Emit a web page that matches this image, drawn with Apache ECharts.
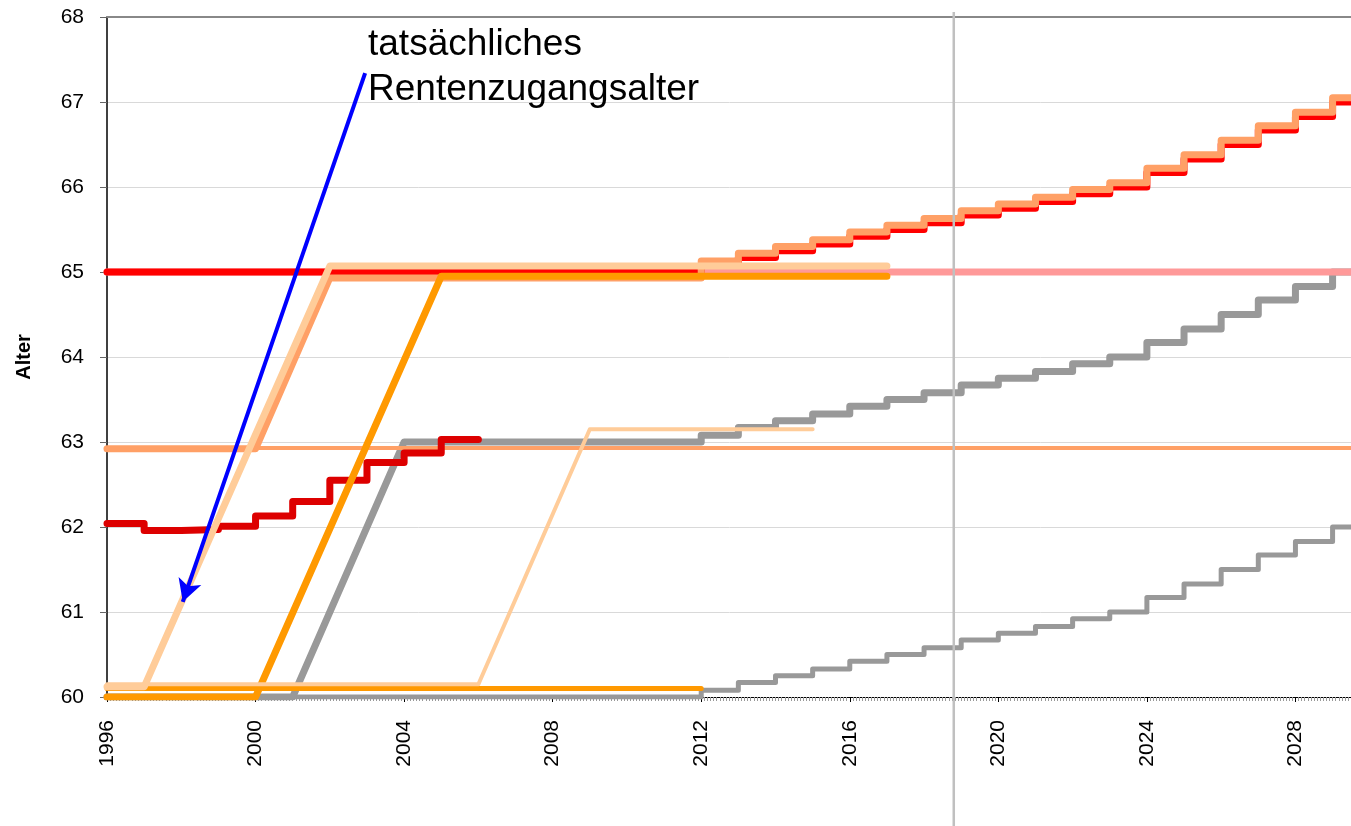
<!DOCTYPE html>
<html>
<head>
<meta charset="utf-8">
<script src="https://cdn.jsdelivr.net/npm/echarts@6/dist/echarts.min.js"></script>
<style>
  html, body { margin: 0; padding: 0; background: #fff; }
  #chart { width: 1351px; height: 826px; }
</style>
</head>
<body>
<div id="chart"></div>
<script>
// Jahre, ab denen die Altersgrenze schrittweise steigt
const stufenJahre = [2012, 2013, 2014, 2015, 2016, 2017, 2018, 2019, 2020, 2021, 2022, 2023, 2024, 2025, 2026, 2027, 2028, 2029]
// Regelaltersgrenze (rot) und die leicht versetzte Linie darueber (lachs)
const regelAlter = [65.08, 65.17, 65.25, 65.33, 65.42, 65.5, 65.58, 65.67, 65.75, 65.83, 65.92, 66, 66.17, 66.33, 66.5, 66.67, 66.83, 67]
const lachsStufen = [65.13, 65.22, 65.3, 65.38, 65.47, 65.55, 65.63, 65.72, 65.8, 65.88, 65.97, 66.05, 66.22, 66.38, 66.55, 66.72, 66.88, 67.05]
// graue Linien
const grauObenStufen = [63.08, 63.17, 63.25, 63.33, 63.42, 63.5, 63.58, 63.67, 63.75, 63.83, 63.92, 64, 64.17, 64.33, 64.5, 64.67, 64.83, 65]
const grauUntenStufen = [60.08, 60.17, 60.25, 60.33, 60.42, 60.5, 60.58, 60.67, 60.75, 60.83, 60.92, 61, 61.17, 61.33, 61.5, 61.67, 61.83, 62]

// tatsaechliches Rentenzugangsalter
const istJahre = [1996, 1997, 1998, 1999, 2000, 2001, 2002, 2003, 2004, 2005]
const istAlter = [62.04, 61.96, 61.97, 62.01, 62.13, 62.3, 62.55, 62.76, 62.87, 63.03]
const istEnde = 2006

// Linien mit Rampen (Jahr, Alter)
const rotVorher = [[1996, 65], [2012, 65]]
const rosa = [[1996, 65], [2032, 65]]
const lachsDuenn = [[1996, 62.93], [2032, 62.93]]
const lachsVorher = [[1996, 62.92], [2000, 62.92], [2002, 64.93], [2012, 64.93]]
const pfirsichDick = [[1996, 60.12], [1997, 60.12], [2002, 65.07], [2017, 65.07]]
const pfirsichDuenn = [[1996, 60.15], [2006, 60.15], [2009, 63.15], [2015, 63.15]]
const orangeDick = [[1996, 60], [2000, 60], [2005, 64.95], [2017, 64.95]]
const orangeDuenn = [[1996, 60.1], [2012, 60.1]]
const grauObenVorher = [[1996, 60], [2001, 60], [2004, 63], [2012, 63]]
const grauUntenVorher = [[1996, 60], [2012, 60]]

const xMin = 1996
const xMax = 2032
const vLinieJahr = 2018.8
const pfeilVon = [2002.95, 67.34]
const pfeilBis = [1998.04, 61.12]

const FONT = '"Liberation Sans", Arial, sans-serif'

// haengt Treppenstufen an eine Punktliste an
function treppe(start, jahre, werte, ende) {
  const pts = start.slice()
  let last = start[start.length - 1][1]
  jahre.forEach((j, i) => {
    pts.push([j, last])
    pts.push([j, werte[i]])
    last = werte[i]
  })
  pts.push([ende, last])
  return pts
}

function linie(name, data, color, width, extra) {
  return Object.assign({
    name: name,
    type: 'line',
    data: data,
    symbol: 'none',
    showSymbol: false,
    silent: true,
    lineStyle: { color: color, width: width, cap: 'round', join: 'round' },
    itemStyle: { color: color },
    emphasis: { disabled: true }
  }, extra || {})
}

const chart = echarts.init(document.getElementById('chart'))

chart.setOption({
  animation: false,
  textStyle: { fontFamily: FONT },
  // Achse reicht bis 2032, der Rest liegt ausserhalb des Bildes
  grid: { left: 107, right: -93, top: 17, bottom: 129, outerBoundsMode: 'none', containLabel: false },
  xAxis: [
    {
      type: 'value',
      min: xMin,
      max: xMax,
      interval: 4,
      position: 'bottom',
      axisLine: { lineStyle: { color: '#000', width: 1 } },
      axisTick: { show: true, length: 5, lineStyle: { color: '#000' } },
      minorTick: { show: true, splitNumber: 48, length: 4, lineStyle: { color: '#999' } },
      axisLabel: {
        rotate: 90, fontSize: 21, color: '#000', margin: 23, fontFamily: FONT,
        formatter: v => String(v)
      },
      splitLine: { show: false }
    },
    {
      type: 'value',
      min: xMin,
      max: xMax,
      position: 'top',
      axisLine: { show: true, lineStyle: { color: '#888', width: 2 } },
      axisTick: { show: false },
      axisLabel: { show: false },
      splitLine: { show: false }
    }
  ],
  yAxis: {
    type: 'value',
    min: 60,
    max: 68,
    interval: 1,
    name: 'Alter',
    nameLocation: 'middle',
    nameGap: 73,
    nameTextStyle: { fontSize: 20, fontWeight: 'bold', color: '#000', fontFamily: FONT },
    axisLine: { show: true, lineStyle: { color: '#000', width: 1.5 } },
    axisTick: { show: true, length: 7, lineStyle: { color: '#666' } },
    axisLabel: { fontSize: 21, color: '#000', margin: 23, fontFamily: FONT },
    splitLine: { lineStyle: { color: '#d9d9d9', width: 1 } }
  },
  series: [
    linie('grau unten', treppe(grauUntenVorher, stufenJahre, grauUntenStufen, xMax), '#999999', 5),
    linie('grau oben', treppe(grauObenVorher, stufenJahre, grauObenStufen, xMax), '#999999', 7),
    linie('lachs duenn', lachsDuenn, '#ffa066', 4),
    linie('rosa', rosa, '#ff9999', 7),
    linie('Regelaltersgrenze', treppe(rotVorher, stufenJahre, regelAlter, xMax), '#ff0000', 7),
    linie('lachs', treppe(lachsVorher, stufenJahre, lachsStufen, xMax), '#ffa066', 7),
    linie('tatsaechlich', treppe([[istJahre[0], istAlter[0]]], istJahre.slice(1), istAlter.slice(1), istEnde), '#dd0000', 7),
    linie('orange duenn', orangeDuenn, '#ff9900', 5),
    linie('orange', orangeDick, '#ff9900', 7),
    linie('pfirsich duenn', pfirsichDuenn, '#ffcc99', 4),
    linie('pfirsich', pfirsichDick, '#ffcc99', 7, {
      markLine: {
        silent: true,
        symbol: ['none', 'arrow'],
        symbolSize: [18, 22],
        label: { show: false },
        emphasis: { disabled: true },
        lineStyle: { color: '#0000ff', width: 4, type: 'solid' },
        data: [[{ coord: pfeilVon }, { coord: pfeilBis }]]
      }
    })
  ]
})

const vx = chart.convertToPixel({ xAxisIndex: 0 }, vLinieJahr)
chart.setOption({
  graphic: [
    {
      type: 'line',
      z: 100,
      silent: true,
      shape: { x1: vx, y1: 12, x2: vx, y2: 826 },
      style: { stroke: '#c0c0c0', lineWidth: 2.5 }
    },
    {
      type: 'text',
      z: 100,
      x: 368,
      y: 22,
      style: {
        text: 'tatsächliches\nRentenzugangsalter',
        fontSize: 37,
        fontFamily: FONT,
        fill: '#000',
        lineHeight: 45,
        verticalAlign: 'top'
      }
    }
  ]
})
</script>
</body>
</html>
